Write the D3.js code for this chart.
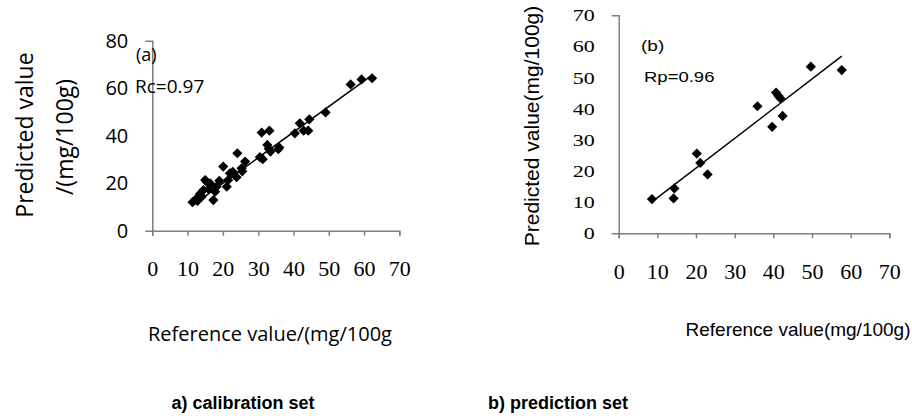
<!DOCTYPE html>
<html>
<head>
<script src="https://cdn.jsdelivr.net/npm/d3@7"></script>
</head>
<body style="margin:0px; background:white;">

<script>

// calibration set (a)
var calRef  = [11.4,12.4,12.8,13.5,14.0,14.5,15.0,15.4,16.0,16.4,17.3,17.8,18.2,19.0,20.1,21.1,21.5,22.0,22.8,23.9,24.1,25.3,25.5,26.3,30.5,31.3,31.0,33.2,32.6,33.0,33.5,35.7,36.0,40.4,41.8,42.9,44.2,44.5,49.1,56.2,59.3,62.3];
var calPred = [12.0,13.3,12.5,15.5,14.3,17.1,21.3,20.6,17.5,19.9,12.9,16.4,18.5,21.0,27.0,18.5,21.3,24.2,24.8,22.5,32.6,26.3,25.0,29.1,31.0,30.1,41.3,42.1,36.1,34.5,33.3,34.3,35.0,41.0,45.2,42.1,42.1,46.9,49.8,61.6,63.7,64.2];
var calFit = [1.077, -1.6];          // slope, intercept
var calTicksX = [0,10,20,30,40,50,60,70];
var calTicksY = [0,20,40,60,80];

// prediction set (b)
var preRef  = [8.6,14.2,14.4,20.2,21.1,23.0,35.9,39.7,40.7,41.3,41.8,42.4,49.7,57.7];
var prePred = [11.0,11.2,14.4,25.6,22.6,18.9,40.8,34.2,45.2,44.2,43.4,37.7,53.5,52.4];
var preFit = [0.953, 1.9];
var preTicksX = [0,10,20,30,40,50,60,70];
var preTicksY = [0,10,20,30,40,50,60,70];

var serif = "'Liberation Serif', 'Times New Roman', serif";
var sansA = "'Open Sans', sans-serif";
var arial = "'Liberation Sans', Arial, sans-serif";

var svg = d3.select("body").append("svg")
    .attr("width", 912)
    .attr("height", 416);

var diamond = d3.symbol().type(d3.symbolSquare).size(52);

function panel(opt) {

  var x = d3.scaleLinear().domain([0,70]).range([opt.left, opt.right]);
  var y = d3.scaleLinear().domain([0, opt.ymax]).range([opt.bottom, opt.top]);

  // y axis: end ticks only
  var ya = svg.append("g")
      .attr("transform", "translate(" + opt.left + ",0)")
      .call(d3.axisLeft(y).tickValues(opt.ticksY).tickSizeInner(0).tickSizeOuter(7).tickPadding(24));
  ya.select(".domain").attr("stroke", "#7f7f7f").attr("stroke-width", 1.5).attr("fill", "none");
  ya.selectAll("text")
      .attr("font-family", opt.yFont).attr("font-size", opt.ySize).attr("fill", "black");
  if (opt.ySquash) ya.selectAll("text").attr("transform", "scale(1," + opt.ySquash + ")");

  var xa = svg.append("g")
      .attr("transform", "translate(0," + opt.bottom + ")")
      .call(d3.axisBottom(x).tickValues(opt.ticksX).tickSize(5).tickPadding(25));
  xa.selectAll(".domain, line").attr("stroke", "#7f7f7f").attr("stroke-width", 1.5);
  xa.selectAll("text")
      .attr("font-family", serif).attr("font-size", 22).attr("fill", "black");

  var xs = d3.extent(opt.ref);
  svg.append("path")
      .attr("fill", "none")
      .attr("stroke", "black")
      .attr("stroke-width", 1.5)
      .attr("d", d3.line()
        .x(function(d) { return x(d); })
        .y(function(d) { return y(opt.fit[0]*d + opt.fit[1]); })(xs));

  svg.append("g").selectAll("path")
      .data(opt.ref)
      .enter().append("path")
      .attr("d", diamond)
      .attr("fill", "black")
      .attr("transform", function(d,i) {
        return "translate(" + x(d) + "," + y(opt.pred[i]) + ") rotate(45)";
      });
}

panel({left: 152.3, right: 399.3, top: 40.7, bottom: 230.7, ymax: 80,
       ticksX: calTicksX, ticksY: calTicksY, yFont: sansA, ySize: 20,
       ref: calRef, pred: calPred, fit: calFit});

panel({left: 618.7, right: 889.3, top: 15.3, bottom: 233.3, ymax: 70,
       ticksX: preTicksX, ticksY: preTicksY, yFont: serif, ySize: 22, ySquash: 0.78,
       ref: preRef, pred: prePred, fit: preFit});

// annotations
function txt(s, x, y, font, size, opts) {
  opts = opts || {};
  var t = svg.append("text")
      .attr("font-family", font)
      .attr("font-size", size)
      .attr("font-weight", opts.bold ? "bold" : null)
      .attr("text-anchor", opts.anchor || "start")
      .attr("fill", "black")
      .text(s);
  var tr = "translate(" + x + "," + y + ")";
  if (opts.rotate) tr += " rotate(-90)";
  if (opts.squash) tr += " scale(1," + opts.squash + ")";
  t.attr("transform", tr);
  return t;
}

txt("(a)", 136, 61, sansA, 18);
txt("Rc=0.97", 135, 93, sansA, 19);
txt("Predicted value", 33, 135, sansA, 23, {anchor: "middle", rotate: true});
txt("/(mg/100g)", 73, 137, sansA, 23, {anchor: "middle", rotate: true});
txt("Reference value/(mg/100g", 270, 341, sansA, 20, {anchor: "middle"});

txt("(b)", 641, 51, arial, 19, {squash: 0.8});
txt("Rp=0.96", 644, 82, arial, 18.5, {squash: 0.8});
txt("Predicted value(mg/100g)", 539, 126, arial, 21, {anchor: "middle", rotate: true});
txt("Reference value(mg/100g)", 798, 336, arial, 19, {anchor: "middle"});

txt("a) calibration set", 243, 409, arial, 18, {anchor: "middle", bold: true});
txt("b) prediction set", 558, 409, arial, 18, {anchor: "middle", bold: true});

</script>

</body>
</html>
